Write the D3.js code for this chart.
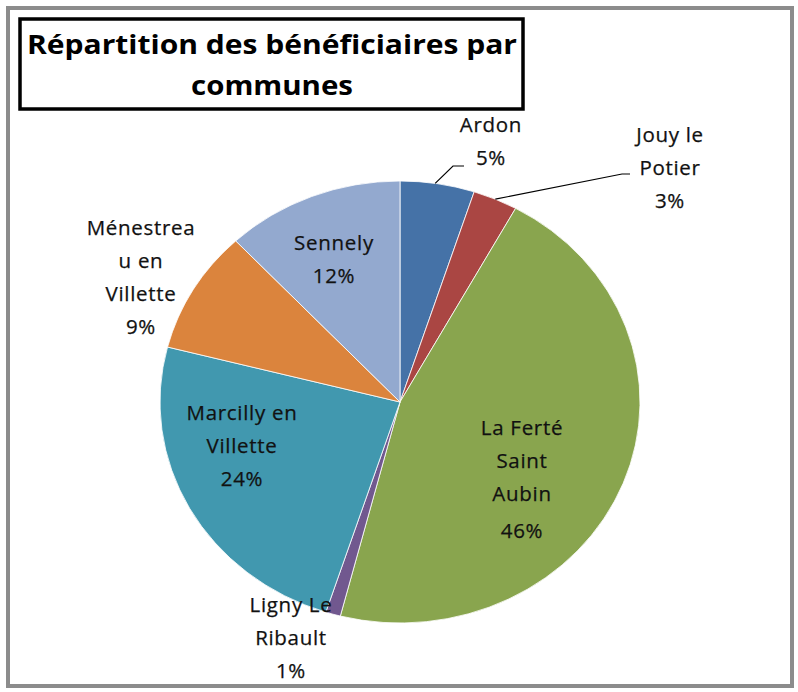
<!DOCTYPE html>
<meta charset="utf-8">
<style>
body { margin: 0; background: #fff; }
.lbl { font-family: "Open Sans", sans-serif; font-size: 20.5px; fill: #111; letter-spacing: 0.7px; stroke: #111; stroke-width: 0.25px; }
.title { font-family: "Open Sans", sans-serif; font-weight: bold; font-size: 27px; fill: #000; }
</style>
<body>
<script src="https://d3js.org/d3.v7.min.js"></script>
<script>
// data
var communes = ["Ardon", "Jouy le Potier", "La Ferté Saint Aubin", "Ligny Le Ribault", "Marcilly en Villette", "Ménestreau en Villette", "Sennely"];
var parts = [5, 3, 46, 1, 24, 9, 12];
var colors = ["#4572A7", "#AA4643", "#89A54E", "#71588F", "#4198AF", "#DB843D", "#93A9CF"];
// how the labels wrap, as in the original
var labelLines = [
  ["Ardon", "5%"],
  ["Jouy le", "Potier", "3%"],
  ["La Ferté", "Saint", "Aubin", "46%"],
  ["Ligny Le", "Ribault", "1%"],
  ["Marcilly en", "Villette", "24%"],
  ["Ménestrea", "u en", "Villette", "9%"],
  ["Sennely", "12%"]
];

var width = 798, height = 692;
var cx = 400, cy = 402, rx = 240, ry = 221;

var svg = d3.select("body").append("svg")
    .attr("width", width)
    .attr("height", height);

// outer frame
svg.append("rect")
    .attr("x", 8).attr("y", 8)
    .attr("width", 784).attr("height", 678)
    .attr("fill", "#fff")
    .attr("stroke", "#8c8c8c")
    .attr("stroke-width", 4);

// pie (slightly stretched horizontally like the source)
var pie = d3.pie().sort(null).value(function(d) { return d; });
var arcs = pie(parts);
var arc = d3.arc().innerRadius(0).outerRadius(ry);

var g = svg.append("g")
    .attr("transform", "translate(" + cx + "," + cy + ") scale(" + (rx / ry) + ",1)");

g.selectAll("path")
    .data(arcs)
  .enter().append("path")
    .attr("d", arc)
    .attr("fill", function(d, i) { return colors[i]; })
    .attr("stroke", "#fff")
    .attr("stroke-width", 0.8)
    .attr("vector-effect", "non-scaling-stroke");

// point on the ellipse edge at a given angle
function edge(a, k) {
  return [cx + Math.sin(a) * rx * k, cy - Math.cos(a) * ry * k];
}

// label block centres (x) and first baseline (y)
var labelPos = [
  [491, 132], [670, 142], [522, 435], [291, 612],
  [242, 420], [141, 235], [334, 250]
];
var lineH = 33;

labelLines.forEach(function(lines, i) {
  var t = svg.append("text")
      .attr("class", "lbl")
      .attr("text-anchor", "middle");
  lines.forEach(function(s, j) {
    t.append("tspan")
        .attr("x", labelPos[i][0])
        .attr("y", labelPos[i][1] + j * lineH + (i == 2 && j == 3 ? 4 : 0))
        .text(s);
  });
});

// leader lines for the two small slices
var pA = edge((arcs[0].startAngle + arcs[0].endAngle) / 2 - 0.01, 1);
svg.append("polyline")
    .attr("points", [pA, [453, 166], [464, 166]].map(function(p) { return p.join(","); }).join(" "))
    .attr("fill", "none").attr("stroke", "#000").attr("stroke-width", 1.2);
var pJ = edge((arcs[1].startAngle + arcs[1].endAngle) / 2, 1);
svg.append("polyline")
    .attr("points", [pJ, [622, 174], [630, 174]].map(function(p) { return p.join(","); }).join(" "))
    .attr("fill", "none").attr("stroke", "#000").attr("stroke-width", 1.2);

// title box
svg.append("rect")
    .attr("x", 20).attr("y", 19)
    .attr("width", 503).attr("height", 90)
    .attr("fill", "#fff")
    .attr("stroke", "#000")
    .attr("stroke-width", 3.5);

svg.append("text")
    .attr("class", "title")
    .attr("x", 272).attr("y", 54)
    .attr("text-anchor", "middle")
    .attr("textLength", 490)
    .attr("lengthAdjust", "spacingAndGlyphs")
    .text("Répartition des bénéficiaires par");
svg.append("text")
    .attr("class", "title")
    .attr("x", 272).attr("y", 95)
    .attr("text-anchor", "middle")
    .attr("textLength", 162)
    .attr("lengthAdjust", "spacingAndGlyphs")
    .text("communes");
</script>
</body>
